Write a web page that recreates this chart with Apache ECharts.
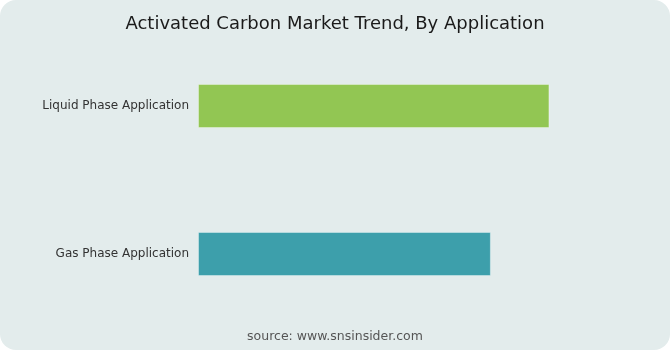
<!DOCTYPE html>
<html><head><meta charset="utf-8">
<script src="https://cdn.jsdelivr.net/npm/echarts@6/dist/echarts.min.js"></script>
<style>html,body{margin:0;padding:0;background:#ffffff;}#c{width:670px;height:350px;}</style>
</head><body><div id="c"></div>
<script>
const categories = ['Gas Phase Application', 'Liquid Phase Application'];
const values = [50, 60];
const barColors = ['#3d9fab', '#92c653'];
const titleText = 'Activated Carbon Market Trend, By Application';
const sourceText = 'source: www.snsinsider.com';

const chart = echarts.init(document.getElementById('c'));
chart.setOption({
  animation: false,
  graphic: [
    { type: 'rect', z: -10, shape: { x: 0, y: 0, width: 670, height: 350, r: 16 }, style: { fill: '#e3ecec' } },
    { type: 'text', left: 'center', top: 330, style: { text: sourceText, fill: '#555', font: '12.5px "DejaVu Sans"' } }
  ],
  title: { text: titleText, left: 'center', top: 10, textStyle: { fontFamily: 'DejaVu Sans', fontSize: 18, fontWeight: 'normal', color: '#1a1a1a' } },
  grid: { left: 198, right: 62, top: 32, bottom: 22 },
  xAxis: { type: 'value', min: 0, max: 70, show: false },
  yAxis: { type: 'category', data: categories, axisLine: { show: false }, axisTick: { show: false },
    axisLabel: { margin: 9, color: '#333', fontFamily: 'DejaVu Sans', fontSize: 12 } },
  series: [{ type: 'bar', barWidth: 44,
    data: values.map((v, i) => ({ value: v, itemStyle: { color: barColors[i], borderColor: 'rgba(255,255,255,0.35)', borderWidth: 1 } })) }]
});
</script></body></html>
